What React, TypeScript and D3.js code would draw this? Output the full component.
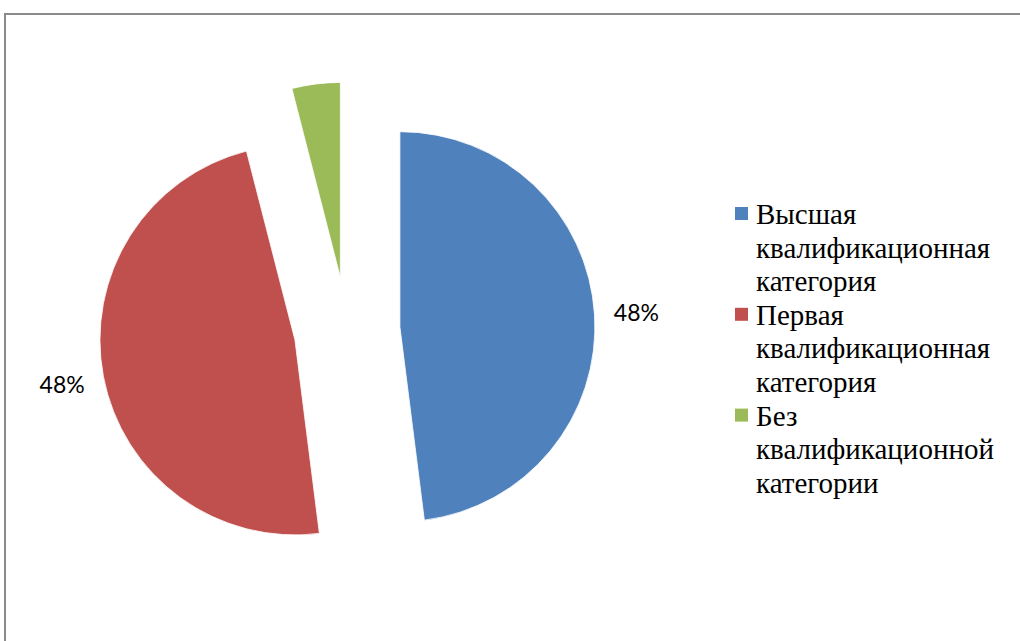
import React from "react";
import * as d3 from "d3";

const categories: string[][] = [
  ["Высшая", "квалификационная", "категория"],
  ["Первая", "квалификационная", "категория"],
  ["Без", "квалификационной", "категории"],
];
const values: number[] = [48, 48, 4];
const valueLabels: string[] = ["48%", "48%", ""];
const colors: string[] = ["#4F81BD", "#C0504D", "#9BBB59"];

const W = 1020;
const H = 641;
const cx = 347;
const cy = 330;
const radius = 195;
const explode = 53;

export default function App() {
  const pie = d3
    .pie<number>()
    .sort(null)
    .startAngle(0)
    .endAngle(2 * Math.PI)
    .value((d) => d);
  const arcs = pie(values);
  const arc = d3.arc<d3.PieArcDatum<number>>().innerRadius(0).outerRadius(radius);

  const legendX = 735;
  const legendTop = 224;
  const lineH = 33.6;
  let lineIdx = 0;

  return (
    <svg
      width={W}
      height={H}
      style={{ position: "absolute", left: 0, top: 0, background: "#fff" }}
    >
      <rect x={0} y={0} width={W} height={H} fill="#fff" />
      <rect
        x={5}
        y={14}
        width={W + 20}
        height={H + 20}
        fill="none"
        stroke="#8a8a8a"
        strokeWidth={2}
      />
      {arcs.map((a, i) => {
        const mid = (a.startAngle + a.endAngle) / 2;
        const dx = Math.sin(mid) * explode;
        const dy = -Math.cos(mid) * explode;
        return (
          <g key={i} transform={`translate(${cx + dx},${cy + dy})`}>
            <path d={arc(a) || ""} fill={colors[i]} stroke="#fff" strokeWidth={0.8} />
          </g>
        );
      })}
      {arcs.map((a, i) => {
        if (!valueLabels[i]) return null;
        const mid = (a.startAngle + a.endAngle) / 2;
        const r = 290;
        const x = cx + Math.sin(mid) * r;
        const y = cy - Math.cos(mid) * r;
        return (
          <text
            key={i}
            x={x}
            y={y}
            textAnchor="middle"
            dominantBaseline="central"
            fontFamily="Lato"
            fontSize={23}
            fill="#000"
          >
            {valueLabels[i]}
          </text>
        );
      })}
      {categories.map((lines, i) => {
        const startLine = lineIdx;
        lineIdx += lines.length;
        const baseY = legendTop + startLine * lineH;
        return (
          <g key={i}>
            <rect x={legendX} y={baseY - 17} width={13} height={13} fill={colors[i]} />
            {lines.map((t, j) => (
              <text
                key={j}
                x={legendX + 21}
                y={baseY + j * lineH}
                fontFamily="Liberation Serif"
                fontSize={29}
                fill="#000"
              >
                {t}
              </text>
            ))}
          </g>
        );
      })}
    </svg>
  );
}
